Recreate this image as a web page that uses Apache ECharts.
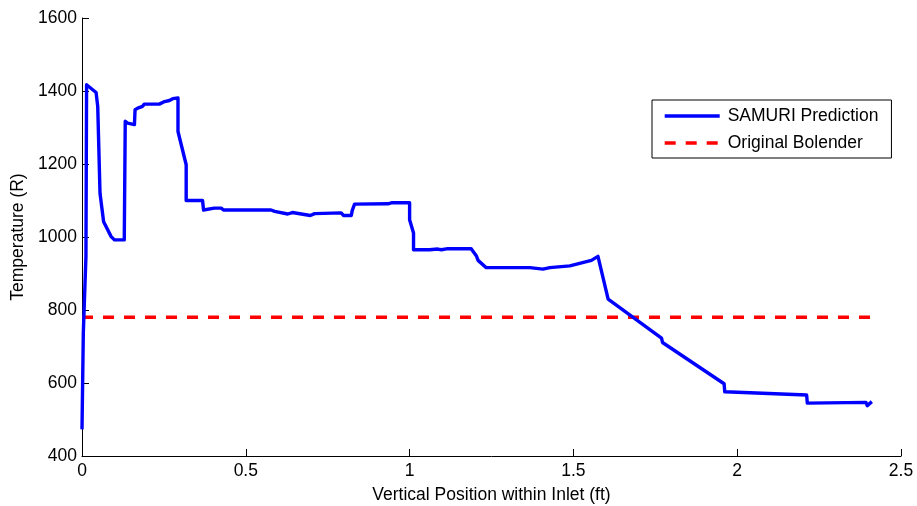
<!DOCTYPE html>
<html>
<head>
<meta charset="utf-8">
<script src="https://cdn.jsdelivr.net/npm/echarts@6/dist/echarts.min.js"></script>
<style>
  html, body { margin: 0; padding: 0; background: #fff; }
  #chart { width: 917px; height: 506px; }
</style>
</head>
<body>
<div id="chart"></div>
<script>
// Vertical position within the inlet (ft) and SAMURI-predicted temperature (R)
const positionFt = [
  0.000, 0.004, 0.012, 0.014, 0.043, 0.048, 0.055, 0.066, 0.089, 0.099,
  0.129, 0.132, 0.139, 0.145, 0.160, 0.162, 0.170, 0.185, 0.190, 0.236,
  0.252, 0.267, 0.277, 0.293, 0.293, 0.318, 0.318, 0.368, 0.371, 0.404,
  0.425, 0.432, 0.577, 0.588, 0.628, 0.642, 0.697, 0.710, 0.791, 0.798,
  0.822, 0.825, 0.832, 0.934, 0.947, 1.000, 1.000, 1.012, 1.012, 1.061,
  1.086, 1.097, 1.117, 1.188, 1.204, 1.209, 1.234, 1.367, 1.407, 1.428,
  1.489, 1.555, 1.575, 1.606, 1.769, 1.772, 1.960, 1.962, 2.212, 2.214,
  2.393, 2.397, 2.411
];
const samuriTemp = [
  473, 737, 946, 1417, 1396, 1358, 1120, 1042, 1001, 992,
  992, 1317, 1312, 1308, 1308, 1349, 1353, 1358, 1364, 1364,
  1371, 1374, 1379, 1381, 1289, 1198, 1100, 1100, 1074, 1079,
  1079, 1074, 1074, 1070, 1063, 1067, 1059, 1064, 1066, 1059,
  1059, 1073, 1090, 1091, 1094, 1094, 1047, 1011, 965, 965,
  967, 965, 968, 968, 948, 936, 916, 916, 912, 916,
  921, 936, 947, 830, 723, 711, 598, 576, 567, 545,
  547, 538, 549
];

// Original Bolender design temperature (constant across the inlet)
const bolenderX = [0, 2.41];
const bolenderTemp = [780, 780];

const xTicks = { min: 0, max: 2.5, step: 0.5 };
const yTicks = { min: 400, max: 1600, step: 200 };

const FONT = "'Liberation Sans', Arial, sans-serif";
const FS = 17.5;

const pair = (xs, ys) => xs.map((x, i) => [x, ys[i]]);

const chart = echarts.init(document.getElementById('chart'), null, { renderer: 'canvas' });
chart.setOption({
  animation: false,
  backgroundColor: '#ffffff',
  textStyle: { fontFamily: FONT },
  grid: { left: 82, right: 16, top: 18, bottom: 50, containLabel: false, outerBoundsMode: 'none' },
  legend: {
    left: 652, top: 100,
    orient: 'vertical',
    padding: [7, 13, 6, 11],
    itemWidth: 55, itemHeight: 14, itemGap: 9,
    borderColor: '#000', borderWidth: 1,
    backgroundColor: '#fff',
    itemStyle: { opacity: 0 },
    lineStyle: { width: 3.4 },
    textStyle: { fontFamily: FONT, fontSize: FS, color: '#000', padding: [0, 0, 0, 3] },
    data: ['SAMURI Prediction', 'Original Bolender']
  },
  xAxis: {
    type: 'value',
    min: xTicks.min, max: xTicks.max, interval: xTicks.step,
    name: 'Vertical Position within Inlet (ft)',
    nameLocation: 'middle', nameGap: 30,
    nameTextStyle: { fontFamily: FONT, fontSize: FS, color: '#000' },
    axisLine: { show: true, lineStyle: { color: '#000', width: 1 } },
    axisTick: { show: true, inside: true, length: 7, lineStyle: { color: '#000' } },
    axisLabel: { fontFamily: FONT, fontSize: FS, color: '#000', margin: 6 },
    splitLine: { show: false }
  },
  yAxis: {
    type: 'value',
    min: yTicks.min, max: yTicks.max, interval: yTicks.step,
    name: 'Temperature (R)',
    nameLocation: 'middle', nameGap: 50, nameRotate: 90,
    nameTextStyle: { fontFamily: FONT, fontSize: FS, color: '#000' },
    axisLine: { show: true, lineStyle: { color: '#000', width: 1 } },
    axisTick: { show: true, inside: true, length: 7, lineStyle: { color: '#000' } },
    axisLabel: { fontFamily: FONT, fontSize: FS, color: '#000', margin: 5, formatter: v => String(v) },
    splitLine: { show: false }
  },
  series: [
    {
      name: 'SAMURI Prediction',
      type: 'line',
      data: pair(positionFt, samuriTemp),
      symbol: 'none', showSymbol: false,
      lineStyle: { color: '#0000ff', width: 3.4, join: 'round' },
      itemStyle: { color: '#0000ff' },
      z: 3
    },
    {
      name: 'Original Bolender',
      type: 'line',
      data: pair(bolenderX, bolenderTemp),
      symbol: 'none', showSymbol: false,
      lineStyle: { color: '#ff0000', width: 3.6, type: [11, 10], cap: 'butt' },
      itemStyle: { color: '#ff0000' },
      z: 2
    }
  ]
});
</script>
</body>
</html>
